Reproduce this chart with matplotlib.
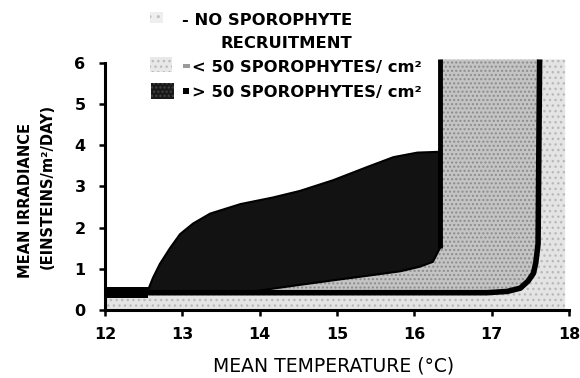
import matplotlib
matplotlib.use("Agg")
import matplotlib.pyplot as plt
from matplotlib.patches import Polygon, Rectangle

# Axis ticks
temp_ticks = [12, 13, 14, 15, 16, 17, 18]
irr_ticks = [0, 1, 2, 3, 4, 5, 6]

# Upper edge of the > 50 sporophytes/cm2 region (temperature, irradiance)
dark_top_temp = [12.56, 12.62, 12.71, 12.84, 12.97, 13.14, 13.36, 13.75, 14.17,
                 14.52, 14.95, 15.39, 15.73, 16.04, 16.33]
dark_top_irr = [0.50, 0.78, 1.12, 1.50, 1.84, 2.10, 2.34, 2.57, 2.73,
                2.89, 3.15, 3.47, 3.71, 3.82, 3.84]

# Lower edge of the > 50 region (right to left)
dark_bot_temp = [16.33, 16.24, 16.07, 15.82, 15.39, 14.95, 14.52, 14.10, 13.91]
dark_bot_irr = [1.50, 1.17, 1.05, 0.94, 0.83, 0.72, 0.61, 0.50, 0.44]

# Outer recruitment limit (heavy line)
outer_temp = [12.0, 12.56, 13.91, 15.0, 16.0, 16.94, 17.20, 17.37, 17.47,
              17.54, 17.57, 17.60, 17.62]
outer_irr = [0.42, 0.42, 0.42, 0.42, 0.42, 0.42, 0.45, 0.53, 0.70,
             0.89, 1.14, 1.60, 6.08]

# Upper temperature limit of the > 50 region
inner_temp = 16.33
inner_irr = [1.50, 6.08]

# Heavy band at low temperature
band_temp = [12.0, 12.56]
band_low = 0.28
band_high = 0.57

# Right edge of the no-recruitment zone
light_edge_temp = 17.95

irr_top = 6.08

light_col = "#e4e4e4"
mid_col = "#c4c4c4"
dark_col = "#121212"

fig = plt.figure(figsize=(5.8, 3.78), dpi=100)
W, H = 580.0, 378.0
ax = fig.add_axes([105 / W, 68 / H, 464 / W, 0.6704])
ax.set_xlim(12, 18)
ax.set_ylim(0, 6.15)

# No sporophyte recruitment
light_pts = [(12.0, 0.0), (light_edge_temp, 0.0), (light_edge_temp, irr_top)]
light_pts += list(zip(outer_temp[::-1], outer_irr[::-1]))
ax.add_patch(Polygon(light_pts, closed=True, facecolor=light_col,
                     edgecolor="#b9b9b9", hatch="...", linewidth=0, zorder=1))

# < 50 sporophytes/cm2
i0 = outer_temp.index(13.91)
mid_pts = list(zip(outer_temp[i0:], outer_irr[i0:]))
mid_pts += [(inner_temp, irr_top)]
mid_pts += list(zip(dark_bot_temp, dark_bot_irr))
ax.add_patch(Polygon(mid_pts, closed=True, facecolor=mid_col,
                     edgecolor="#8c8c8c", hatch="....", linewidth=0, zorder=2))

# > 50 sporophytes/cm2
dark_pts = list(zip(dark_top_temp, dark_top_irr))
dark_pts += list(zip(dark_bot_temp, dark_bot_irr))
dark_pts += [(dark_top_temp[0], outer_irr[1])]
ax.add_patch(Polygon(dark_pts, closed=True, facecolor=dark_col,
                     edgecolor="black", linewidth=1.5, zorder=3))

# Boundary lines
ax.fill_between(band_temp, band_low, band_high, color="black", lw=0, zorder=4)
ax.plot(outer_temp, outer_irr, color="black", lw=4.0, zorder=5,
        solid_capstyle="butt", solid_joinstyle="round")
ax.plot([inner_temp, inner_temp], inner_irr, color="black", lw=3.5, zorder=5,
        solid_capstyle="butt")

for s in ("top", "right"):
    ax.spines[s].set_visible(False)
ax.spines["left"].set_bounds(0, 6)
ax.spines["bottom"].set_bounds(12, 18)
for s in ("left", "bottom"):
    ax.spines[s].set_linewidth(2.2)
    ax.spines[s].set_zorder(6)

ax.set_xticks(temp_ticks)
ax.set_yticks(irr_ticks)
ax.tick_params(direction="out", length=4, width=1.8, labelsize=11.5)
ax.tick_params(axis="y", pad=10)
ax.tick_params(axis="x", pad=8)
for lab in ax.get_xticklabels() + ax.get_yticklabels():
    lab.set_fontweight("bold")
    lab.set_family("DejaVu Sans")

# Axis titles
fig.text(26 / W, 1 - 200 / H, "MEAN IRRADIANCE", rotation=90, ha="center",
         va="center", fontsize=10.5, fontweight="bold")
fig.text(47 / W, 1 - 186 / H, "(EINSTEINS/m²/DAY)", rotation=90, ha="center",
         va="center", fontsize=10.5, fontweight="bold")
fig.text(334 / W, 1 - 366 / H, "MEAN TEMPERATURE (°C)", ha="center",
         va="center", fontsize=13.5)

# Key
def swatch(x0, y0, x1, y1, fc, hatch=None, hc=None):
    fig.patches.append(Rectangle((x0 / W, 1 - y1 / H), (x1 - x0) / W,
                                 (y1 - y0) / H, transform=fig.transFigure,
                                 facecolor=fc, edgecolor=hc or fc, hatch=hatch,
                                 linewidth=0))

swatch(150, 12, 163, 23, "#eeeeee", "..", "#c0c0c0")
fig.text(182 / W, 1 - 25 / H, "- NO SPOROPHYTE", fontsize=11.8,
         fontweight="bold", va="baseline")
fig.text(220 / W, 1 - 48 / H, "RECRUITMENT", fontsize=11.8,
         fontweight="bold", va="baseline")
swatch(150, 57, 172, 72, "#e8e8e8", "...", "#bcbcbc")
swatch(183, 64, 190, 68, "#9a9a9a")
fig.text(192 / W, 1 - 72 / H, "< 50 SPOROPHYTES/ cm²", fontsize=11.8,
         fontweight="bold", va="baseline")
swatch(151, 83, 174, 99, "#1a1a1a", "....", "#444444")
swatch(183, 88, 189, 94, "black")
fig.text(192 / W, 1 - 97 / H, "> 50 SPOROPHYTES/ cm²", fontsize=11.8,
         fontweight="bold", va="baseline")

fig.savefig("out.png", dpi=100)
